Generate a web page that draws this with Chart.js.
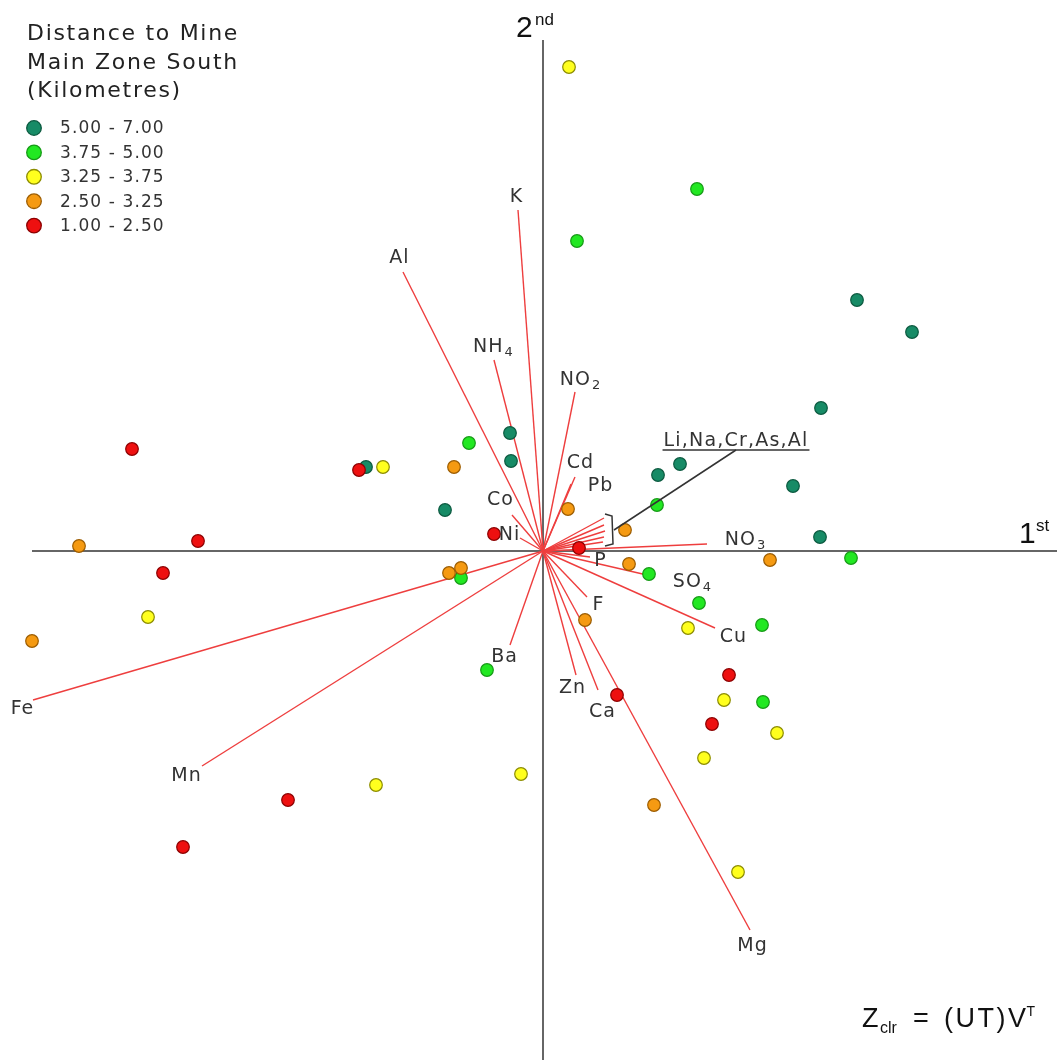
<!DOCTYPE html>
<html><head><meta charset="utf-8">
<script src="https://cdn.jsdelivr.net/npm/chart.js@4/dist/chart.umd.min.js"></script>
<style>html,body{margin:0;padding:0;background:#fff}#wrap{width:1062px;height:1060px}</style>
</head><body><div id="wrap"><canvas id="c" width="1062" height="1060"></canvas></div>
<script>
// ---------- data (biplot coordinates) ----------
const legendTitle = ['Distance to Mine', 'Main Zone South', '(Kilometres)'];
const groupLabels = ['5.00 - 7.00', '3.75 - 5.00', '3.25 - 3.75', '2.50 - 3.25', '1.00 - 2.50'];

const darkGreenX = [3.14, 3.69, 2.78, 1.37, 1.15, 2.50, 2.77, -0.33, -0.32, -1.77, -0.98];
const darkGreenY = [2.51, 2.19, 1.43, 0.87, 0.76, 0.65, 0.14, 1.18, 0.90, 0.84, 0.41];

const lightGreenX = [1.54, 0.34, -0.74, 1.14, 3.08, 1.06, 1.56, 2.19, 2.20, -0.82, -0.56];
const lightGreenY = [3.62, 3.10, 1.08, 0.46, -0.07, -0.23, -0.52, -0.74, -1.51, -0.27, -1.19];

const yellowX = [0.26, -1.60, -3.95, 1.45, 1.81, 2.34, 1.61, -0.22, -1.67, 1.95];
const yellowY = [4.84, 0.84, -0.66, -0.77, -1.49, -1.82, -2.07, -2.23, -2.34, -3.21];

const orangeX = [-0.89, 0.25, 0.82, -4.64, 2.27, 0.86, -0.94, -0.82, -5.11, 0.42, 1.11];
const orangeY = [0.84, 0.42, 0.21, 0.05, -0.09, -0.13, -0.22, -0.17, -0.90, -0.69, -2.54];

const redX = [-4.11, -1.84, -3.45, -0.49, 0.36, -3.80, 1.86, 0.74, 1.69, -2.55, -3.60];
const redY = [1.02, 0.81, 0.10, 0.17, 0.03, -0.22, -1.24, -1.44, -1.73, -2.49, -2.96];

const vectorNames = ['K', 'Al', 'NH4', 'NO2', 'Cd', 'Pb', 'Co', 'Ni', 'NO3', 'P', 'SO4', 'Cu', 'F', 'Mg', 'Ca', 'Zn', 'Ba', 'Mn', 'Fe'];
const vectorX = [-0.25, -1.40, -0.49, 0.32, 0.32, 0.28, -0.31, -0.23, 1.64, 0.47, 1.04, 1.72, 0.44, 2.07, 0.55, 0.33, -0.33, -3.41, -5.10];
const vectorY = [3.41, 2.79, 1.91, 1.59, 0.74, 0.67, 0.36, 0.13, 0.07, -0.06, -0.24, -0.77, -0.46, -3.79, -1.39, -1.24, -0.94, -2.15, -1.49];

const groupVectorTitle = 'Li,Na,Cr,As,Al';
const groupVectorX = [0.61, 0.61, 0.62, 0.61, 0.60];
const groupVectorY = [0.33, 0.26, 0.20, 0.14, 0.09];

const axisNames = ['1', 'st', '2', 'nd'];
const formulaParts = ['Z', 'clr', '=', '(UT)V', 'T'];

// ---------- styles / layout ----------
const fills = ['#178b66', '#22e822', '#ffff1e', '#f59a12', '#ee1010'];
const borders = ['#0c5a40', '#169a16', '#8c8c00', '#9c5c00', '#8c0000'];
const groupData = [[darkGreenX, darkGreenY], [lightGreenX, lightGreenY], [yellowX, yellowY], [orangeX, orangeY], [redX, redY]];
const drawOrder = [5, 4, 3, 2, 1];
const vectorColor = '#ee3e3e';
// label offsets in pixels relative to the vector tip
const labelOffset = {K:[-2,-13], Al:[-4,-14], NH4:[-1,-13], NO2:[5,-12], Cd:[5,-14], Pb:[29,2], Co:[-12,-15],
  Ni:[-11,-3], NO3:[38,-4], P:[10,4], SO4:[45,7], Cu:[18,9], F:[11,8], Mg:[2,16], Ca:[4,22], Zn:[-4,13],
  Ba:[-6,12], Mn:[-16,10], Fe:[-11,9]};

const datasets = [];
groupData.forEach((g, i) => {
  datasets.push({
    type: 'scatter', label: groupLabels[i],
    data: g[0].map((v, k) => ({x: v, y: g[1][k]})),
    backgroundColor: fills[i], borderColor: borders[i], borderWidth: 1.2,
    pointRadius: 6.3, pointHoverRadius: 6.3, order: drawOrder[i]
  });
});
function addVector(vx, vy, name) {
  datasets.push({
    type: 'line', label: name, data: [{x: 0, y: 0}, {x: vx, y: vy}],
    borderColor: vectorColor, borderWidth: 1.4, pointRadius: 0, fill: false, order: 20
  });
}
vectorNames.forEach((n, i) => addVector(vectorX[i], vectorY[i], n));
groupVectorX.forEach((v, i) => addVector(v, groupVectorY[i], 'group' + i));

function setSpacing(ctx, s) { if ('letterSpacing' in ctx) ctx.letterSpacing = s + 'px'; }

function drawChem(ctx, text, cx, cy) {
  const m = text.match(/^([A-Za-z]+?)(\d*)$/);
  const main = m ? m[1] : text, sub = m ? m[2] : '';
  const sp = 1;
  ctx.font = '19px "DejaVu Sans"'; setSpacing(ctx, sp);
  const w1 = ctx.measureText(main).width - sp;
  ctx.font = '13px "DejaVu Sans"'; setSpacing(ctx, 0);
  const w2 = sub ? ctx.measureText(sub).width + 2 : 0;
  const left = cx - (w1 + w2) / 2;
  ctx.textAlign = 'left'; ctx.textBaseline = 'middle';
  ctx.font = '19px "DejaVu Sans"'; setSpacing(ctx, sp);
  ctx.fillText(main, left, cy);
  if (sub) { ctx.font = '13px "DejaVu Sans"'; setSpacing(ctx, 0); ctx.fillText(sub, left + w1 + 2, cy + 6); }
}

const overlay = {
  id: 'overlay',
  beforeDatasetsDraw(chart) {
    const {ctx, scales: {x, y}, chartArea} = chart;
    const x0 = x.getPixelForValue(0), y0 = y.getPixelForValue(0);
    ctx.save();
    ctx.strokeStyle = '#666'; ctx.lineWidth = 2;
    ctx.beginPath();
    ctx.moveTo(x.getPixelForValue(-5.11), y0); ctx.lineTo(x.getPixelForValue(5.14), y0);
    ctx.moveTo(x0, y.getPixelForValue(5.11)); ctx.lineTo(x0, chartArea.bottom);
    ctx.stroke();
    ctx.restore();
  },
  afterDatasetsDraw(chart) {
    const {ctx, scales: {x, y}} = chart;
    ctx.save();
    ctx.fillStyle = '#333';
    // vector labels
    vectorNames.forEach((n, i) => {
      const px = x.getPixelForValue(vectorX[i]), py = y.getPixelForValue(vectorY[i]);
      const o = labelOffset[n] || [0, 0];
      drawChem(ctx, n, px + o[0], py + o[1]);
    });
    // group bracket + leader
    const gx = groupVectorX.map(v => x.getPixelForValue(v));
    const gy = groupVectorY.map(v => y.getPixelForValue(v));
    const bx = Math.max(...gx) + 8, top = Math.min(...gy) - 3, bot = Math.max(...gy) + 3, mid = (top + bot) / 2;
    ctx.strokeStyle = '#333'; ctx.lineWidth = 1.5;
    ctx.beginPath();
    ctx.moveTo(bx - 8, top - 1); ctx.lineTo(bx - 1, top + 1); ctx.lineTo(bx, bot - 1); ctx.lineTo(bx - 8, bot + 1);
    ctx.stroke();
    const lx = bx + 123, ly = mid - 80;
    ctx.beginPath(); ctx.moveTo(bx + 1, mid); ctx.lineTo(lx, ly); ctx.stroke();
    ctx.font = '19px "DejaVu Sans"'; setSpacing(ctx, 1.2);
    ctx.textAlign = 'center'; ctx.textBaseline = 'alphabetic';
    ctx.fillText(groupVectorTitle, lx, ly - 4);
    const tw = ctx.measureText(groupVectorTitle).width;
    ctx.beginPath(); ctx.moveTo(lx - tw / 2 - 1, ly); ctx.lineTo(lx + tw / 2 + 1, ly); ctx.stroke();

    // axis names
    ctx.fillStyle = '#111'; setSpacing(ctx, 0); ctx.textAlign = 'left';
    ctx.font = '30px "Liberation Sans"'; ctx.fillText(axisNames[2], 516, 37);
    ctx.font = '17px "Liberation Sans"'; ctx.fillText(axisNames[3], 535, 25);
    ctx.font = '30px "Liberation Sans"'; ctx.fillText(axisNames[0], 1019, 543);
    ctx.font = '17px "Liberation Sans"'; ctx.fillText(axisNames[1], 1036, 531);

    // formula
    ctx.font = '27px "Liberation Sans"'; ctx.fillText(formulaParts[0], 862, 1027);
    ctx.font = '16px "Liberation Sans"'; ctx.fillText(formulaParts[1], 880, 1033);
    ctx.font = '27px "Liberation Sans"'; ctx.fillText(formulaParts[2], 913, 1027);
    setSpacing(ctx, 2.5); ctx.fillText(formulaParts[3], 944, 1027); setSpacing(ctx, 0);
    const fw = (() => { setSpacing(ctx, 2.5); const w = ctx.measureText(formulaParts[3]).width; setSpacing(ctx, 0); return w; })();
    ctx.font = '14px "Liberation Sans"'; ctx.fillText(formulaParts[4], 944 + fw - 2, 1016);

    // legend
    ctx.fillStyle = '#222';
    ctx.font = '22px "DejaVu Sans"'; setSpacing(ctx, 1.7);
    legendTitle.forEach((t, i) => ctx.fillText(t, 27, 40 + i * 28.5));
    const ly0 = 128, dy = 24.4;
    groupLabels.forEach((t, i) => {
      const cy = ly0 + i * dy;
      ctx.beginPath(); ctx.arc(34, cy, 7.3, 0, Math.PI * 2);
      ctx.fillStyle = fills[i]; ctx.fill();
      ctx.strokeStyle = borders[i]; ctx.lineWidth = 1.3; ctx.stroke();
      ctx.fillStyle = '#333'; ctx.font = '17px "DejaVu Sans"'; setSpacing(ctx, 1.1);
      ctx.textBaseline = 'middle'; ctx.fillText(t, 60, cy + 1); ctx.textBaseline = 'alphabetic';
    });
    ctx.restore();
  }
};

new Chart(document.getElementById('c'), {
  type: 'scatter',
  data: {datasets},
  options: {
    responsive: false, animation: false, devicePixelRatio: 1,
    layout: {padding: 0, autoPadding: false},
    plugins: {legend: {display: false}, tooltip: {enabled: false}},
    scales: {
      x: {type: 'linear', min: -5.43, max: 5.19, display: false},
      y: {type: 'linear', min: -5.09, max: 5.51, display: false}
    }
  },
  plugins: [overlay]
});
</script></body></html>
